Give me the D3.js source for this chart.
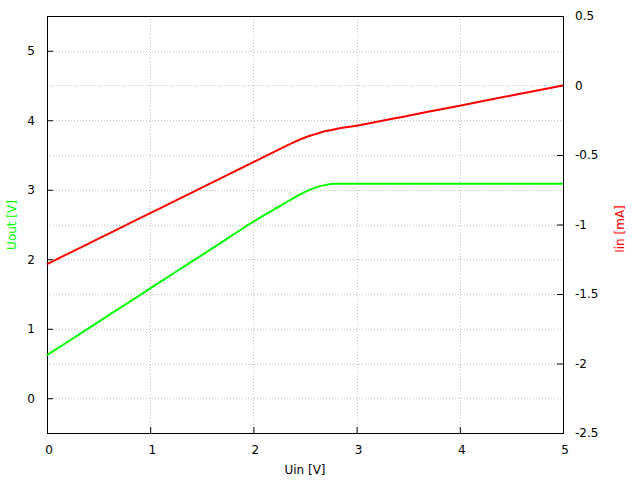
<!DOCTYPE html>
<html>
<head>
<meta charset="utf-8">
<script src="https://d3js.org/d3.v7.min.js"></script>
<style>
body{margin:0;background:#fff;}
svg{display:block;}
text{font-family:"DejaVu Sans",sans-serif;font-size:12px;}
</style>
</head>
<body>
<svg id="chart" width="640" height="480"></svg>
<script>
// Data
const uin      = [0, 0.25, 0.5, 0.75, 1.0, 1.25, 1.5, 1.75, 2.0, 2.25, 2.4, 2.5, 2.6, 2.7, 2.8, 3.0, 3.5, 4.0, 4.5, 5.0];
const uoutV    = [0.62, 0.86, 1.10, 1.34, 1.58, 1.82, 2.06, 2.30, 2.54, 2.76, 2.89, 2.97, 3.03, 3.07, 3.085, 3.085, 3.085, 3.085, 3.085, 3.085];
const iinMA    = [-1.285, -1.193, -1.102, -1.010, -0.918, -0.827, -0.735, -0.643, -0.551, -0.459, -0.405, -0.374, -0.350, -0.328, -0.313, -0.289, -0.217, -0.145, -0.072, 0.0];
const xTicks   = [0, 1, 2, 3, 4, 5];
const yTicks   = [0, 1, 2, 3, 4, 5];
const yGrid    = [0, 0.5, 1, 1.5, 2, 2.5, 3, 3.5, 4, 4.5, 5];
const y2Ticks  = [0.5, 0, -0.5, -1, -1.5, -2, -2.5];
const labels   = {x: "Uin [V]", y: "Uout [V]", y2: "Iin [mA]"};

const L = 47, R = 563, T = 16, B = 433;
const svg = d3.select("#chart");
const x = d3.scaleLinear().domain([0, 5]).range([L, R]);
const y = d3.scaleLinear().domain([-0.5, 5.5]).range([B, T]);
const y2 = d3.scaleLinear().domain([-2.5, 0.5]).range([B, T]);

// grid
const g = svg.append("g").attr("stroke", "#c4c4c4").attr("stroke-width", 1).attr("stroke-dasharray", "1,2");
g.selectAll("line.h").data(yGrid).join("line")
  .attr("x1", L).attr("x2", R)
  .attr("y1", d => Math.round(y(d)) + 0.5).attr("y2", d => Math.round(y(d)) + 0.5);
g.selectAll("line.v").data(xTicks.slice(1, -1)).join("line")
  .attr("y1", T).attr("y2", B)
  .attr("x1", d => Math.round(x(d)) + 0.5).attr("x2", d => Math.round(x(d)) + 0.5);

// axes
const fmt = d => String(d);
const xAxis = d3.axisBottom(x).tickValues(xTicks).tickSizeInner(-6).tickSizeOuter(0).tickPadding(12).tickFormat(fmt);
const yAxis = d3.axisLeft(y).tickValues(yTicks).tickSizeInner(-6).tickSizeOuter(0).tickPadding(12).tickFormat(fmt);
const y2Axis = d3.axisRight(y2).tickValues(y2Ticks).tickSizeInner(-6).tickSizeOuter(0).tickPadding(12).tickFormat(fmt);

function styleAxis(sel){
  sel.select(".domain").remove();
  sel.selectAll(".tick line").attr("stroke", "#000").attr("stroke-width", 1);
  sel.selectAll("text").attr("fill", "#000").style("font-size", "12px").style("font-family", "DejaVu Sans, sans-serif");
}
svg.append("g").attr("transform", `translate(0,${B})`).call(xAxis).call(styleAxis)
  .selectAll(".tick text").attr("dx", "1.5");
svg.append("g").attr("transform", `translate(${L},0)`).call(yAxis).call(styleAxis);
svg.append("g").attr("transform", `translate(${R},0)`).call(y2Axis).call(styleAxis);

// border
svg.append("rect").attr("x", L + 0.5).attr("y", T + 0.5).attr("width", R - L).attr("height", B - T)
  .attr("fill", "none").attr("stroke", "#000").attr("stroke-width", 1);

// lines
const lineU = d3.line().x((d, i) => x(uin[i])).y(d => y(d)).curve(d3.curveMonotoneX);
const lineI = d3.line().x((d, i) => x(uin[i])).y(d => y2(d)).curve(d3.curveMonotoneX);
svg.append("path").datum(uoutV).attr("d", lineU).attr("fill", "none").attr("stroke", "#00ff00").attr("stroke-width", 2);
svg.append("path").datum(iinMA).attr("d", lineI).attr("fill", "none").attr("stroke", "#ff0000").attr("stroke-width", 2);

// labels
svg.append("text").attr("x", (L + R) / 2).attr("y", 474).attr("text-anchor", "middle").attr("fill", "#000").text(labels.x);
svg.append("text").attr("transform", `translate(16,225) rotate(-90)`).attr("text-anchor", "middle").attr("fill", "#00ff00").text(labels.y);
svg.append("text").attr("transform", `translate(624,229) rotate(-90)`).attr("text-anchor", "middle").attr("fill", "#ff0000").text(labels.y2);
</script>
</body>
</html>
